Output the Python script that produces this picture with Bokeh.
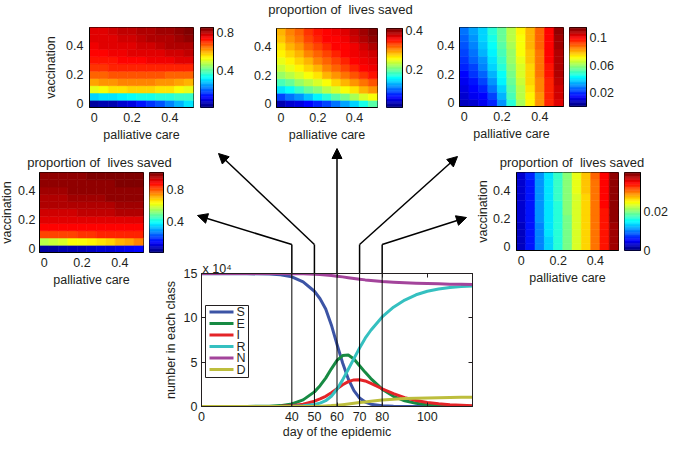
import numpy as np
from bokeh.plotting import figure
from bokeh.models import (Range1d, FixedTicker, LinearColorMapper, ColumnDataSource,
                          Arrow, NormalHead, InlineStyleSheet, LinearAxis)
from bokeh.layouts import column
from bokeh.transform import transform
from bokeh.embed import file_html
from bokeh.resources import INLINE
from bokeh.core.properties import value

# ---------------- data ----------------
PC_LEVELS = [0.0, 0.05, 0.1, 0.15, 0.2, 0.25, 0.3, 0.35, 0.4, 0.45, 0.5]    # palliative care
VAC_LEVELS = [0.0, 0.05, 0.1, 0.15, 0.2, 0.25, 0.3, 0.35, 0.4, 0.45, 0.5]   # vaccination
HEAT_TICKS = [0, 0.2, 0.4]

# proportion of lives saved, rows = vaccination (0 -> 0.5), cols = palliative care (0 -> 0.5)
SAVED_DAY40 = [
    [0.041, 0.041, 0.051, 0.051, 0.061, 0.071, 0.082, 0.092, 0.102, 0.122, 0.143],
    [0.561, 0.581, 0.602, 0.622, 0.632, 0.643, 0.663, 0.683, 0.704, 0.724, 0.755],
    [0.816, 0.816, 0.826, 0.826, 0.836, 0.836, 0.847, 0.847, 0.847, 0.857, 0.857],
    [0.877, 0.877, 0.877, 0.887, 0.887, 0.887, 0.887, 0.887, 0.887, 0.887, 0.887],
    [0.918, 0.918, 0.918, 0.918, 0.918, 0.918, 0.918, 0.918, 0.918, 0.918, 0.918],
    [0.938, 0.938, 0.938, 0.938, 0.949, 0.949, 0.949, 0.949, 0.959, 0.959, 0.959],
    [0.959, 0.959, 0.959, 0.959, 0.969, 0.969, 0.969, 0.969, 0.979, 0.979, 0.979],
    [0.969, 0.969, 0.969, 0.979, 0.979, 0.979, 0.979, 0.989, 0.989, 0.989, 0.989],
    [0.979, 0.979, 0.979, 0.989, 0.989, 0.989, 0.989, 1.000, 1.000, 1.000, 1.000],
    [0.989, 0.989, 0.989, 0.989, 1.000, 1.000, 1.000, 1.000, 1.010, 1.010, 1.010],
    [0.989, 0.989, 1.000, 1.000, 1.000, 1.010, 1.010, 1.010, 1.010, 1.020, 1.020],
]
SAVED_DAY50 = [
    [0.04, 0.05, 0.06, 0.08, 0.10, 0.13, 0.16, 0.19, 0.23, 0.27, 0.31],
    [0.29, 0.30, 0.31, 0.32, 0.33, 0.34, 0.35, 0.36, 0.36, 0.37, 0.37],
    [0.52, 0.53, 0.55, 0.56, 0.57, 0.57, 0.57, 0.56, 0.55, 0.53, 0.51],
    [0.61, 0.62, 0.62, 0.63, 0.63, 0.63, 0.63, 0.62, 0.62, 0.61, 0.60],
    [0.66, 0.66, 0.67, 0.67, 0.67, 0.67, 0.67, 0.67, 0.66, 0.66, 0.66],
    [0.70, 0.70, 0.71, 0.71, 0.71, 0.71, 0.71, 0.71, 0.71, 0.71, 0.71],
    [0.72, 0.73, 0.73, 0.74, 0.74, 0.74, 0.75, 0.75, 0.75, 0.76, 0.76],
    [0.74, 0.74, 0.75, 0.75, 0.76, 0.76, 0.77, 0.77, 0.78, 0.78, 0.79],
    [0.75, 0.76, 0.76, 0.77, 0.77, 0.78, 0.78, 0.79, 0.80, 0.80, 0.81],
    [0.76, 0.77, 0.77, 0.78, 0.78, 0.79, 0.80, 0.80, 0.81, 0.82, 0.83],
    [0.77, 0.77, 0.78, 0.79, 0.79, 0.80, 0.81, 0.82, 0.82, 0.83, 0.84],
]
SAVED_DAY60 = [
    [0.034, 0.042, 0.050, 0.062, 0.074, 0.090, 0.106, 0.126, 0.146, 0.170, 0.194],
    [0.090, 0.106, 0.122, 0.138, 0.158, 0.174, 0.194, 0.210, 0.226, 0.242, 0.258],
    [0.150, 0.166, 0.182, 0.198, 0.214, 0.230, 0.242, 0.258, 0.270, 0.286, 0.298],
    [0.190, 0.202, 0.218, 0.234, 0.246, 0.258, 0.274, 0.286, 0.302, 0.314, 0.326],
    [0.218, 0.230, 0.242, 0.258, 0.270, 0.286, 0.298, 0.314, 0.326, 0.338, 0.350],
    [0.238, 0.250, 0.262, 0.274, 0.290, 0.306, 0.318, 0.330, 0.342, 0.354, 0.362],
    [0.250, 0.262, 0.274, 0.290, 0.306, 0.322, 0.334, 0.346, 0.354, 0.362, 0.370],
    [0.262, 0.274, 0.290, 0.306, 0.322, 0.334, 0.346, 0.354, 0.362, 0.370, 0.378],
    [0.270, 0.286, 0.302, 0.318, 0.334, 0.346, 0.354, 0.358, 0.366, 0.378, 0.390],
    [0.282, 0.298, 0.314, 0.330, 0.342, 0.354, 0.358, 0.362, 0.374, 0.386, 0.398],
    [0.290, 0.306, 0.322, 0.338, 0.350, 0.358, 0.362, 0.370, 0.382, 0.394, 0.410],
]
SAVED_DAY70 = [
    [0.0081, 0.0104, 0.0138, 0.0196, 0.0322, 0.0483, 0.0621, 0.0725, 0.0828, 0.0955, 0.1035],
    [0.0092, 0.0127, 0.0161, 0.0230, 0.0357, 0.0506, 0.0633, 0.0736, 0.0840, 0.0955, 0.1047],
    [0.0115, 0.0150, 0.0196, 0.0276, 0.0391, 0.0529, 0.0644, 0.0748, 0.0851, 0.0966, 0.1058],
    [0.0138, 0.0173, 0.0230, 0.0311, 0.0426, 0.0552, 0.0656, 0.0759, 0.0851, 0.0966, 0.1070],
    [0.0161, 0.0207, 0.0265, 0.0345, 0.0449, 0.0564, 0.0667, 0.0759, 0.0863, 0.0978, 0.1081],
    [0.0184, 0.0230, 0.0299, 0.0380, 0.0472, 0.0587, 0.0679, 0.0771, 0.0863, 0.0978, 0.1081],
    [0.0207, 0.0253, 0.0322, 0.0403, 0.0495, 0.0598, 0.0690, 0.0782, 0.0874, 0.0989, 0.1093],
    [0.0230, 0.0276, 0.0345, 0.0426, 0.0518, 0.0610, 0.0702, 0.0782, 0.0874, 0.0989, 0.1093],
    [0.0242, 0.0299, 0.0368, 0.0449, 0.0529, 0.0621, 0.0713, 0.0794, 0.0886, 0.0989, 0.1104],
    [0.0265, 0.0322, 0.0380, 0.0460, 0.0541, 0.0633, 0.0713, 0.0805, 0.0886, 0.1001, 0.1104],
    [0.0276, 0.0334, 0.0391, 0.0472, 0.0552, 0.0644, 0.0725, 0.0805, 0.0897, 0.1001, 0.1116],
]
SAVED_DAY80 = [
    [0.0030, 0.0058, 0.0104, 0.0138, 0.0166, 0.0199, 0.0236, 0.0268, 0.0305, 0.0345, 0.0390],
    [0.0030, 0.0059, 0.0105, 0.0139, 0.0167, 0.0200, 0.0237, 0.0269, 0.0306, 0.0346, 0.0391],
    [0.0031, 0.0060, 0.0106, 0.0140, 0.0168, 0.0201, 0.0238, 0.0270, 0.0307, 0.0347, 0.0392],
    [0.0031, 0.0060, 0.0107, 0.0141, 0.0169, 0.0202, 0.0238, 0.0270, 0.0307, 0.0347, 0.0392],
    [0.0032, 0.0061, 0.0108, 0.0141, 0.0169, 0.0202, 0.0239, 0.0271, 0.0308, 0.0348, 0.0393],
    [0.0032, 0.0061, 0.0109, 0.0142, 0.0170, 0.0203, 0.0239, 0.0271, 0.0308, 0.0348, 0.0393],
    [0.0032, 0.0062, 0.0109, 0.0142, 0.0170, 0.0203, 0.0240, 0.0272, 0.0309, 0.0349, 0.0394],
    [0.0033, 0.0062, 0.0110, 0.0143, 0.0171, 0.0204, 0.0240, 0.0272, 0.0309, 0.0349, 0.0394],
    [0.0033, 0.0063, 0.0110, 0.0143, 0.0171, 0.0204, 0.0241, 0.0273, 0.0310, 0.0350, 0.0395],
    [0.0033, 0.0063, 0.0111, 0.0144, 0.0172, 0.0205, 0.0241, 0.0273, 0.0310, 0.0350, 0.0396],
    [0.0034, 0.0064, 0.0111, 0.0144, 0.0172, 0.0205, 0.0242, 0.0274, 0.0311, 0.0351, 0.0397],
]
# colour-scale limits and colourbar ticks of each map
CLIM_DAY40 = (0.0, 1.02);   CTICKS_DAY40 = [0.4, 0.8]
CLIM_DAY50 = (0.01, 0.85);  CTICKS_DAY50 = [0.4, 0.8]
CLIM_DAY60 = (0.01, 0.41);  CTICKS_DAY60 = [0.2, 0.4]
CLIM_DAY70 = (0.0, 0.115);  CTICKS_DAY70 = [0.02, 0.06, 0.1]
CLIM_DAY80 = (0.0, 0.0405); CTICKS_DAY80 = [0, 0.02]

# epidemic curves (numbers in units of 10^4)
DAYS = [0, 10, 20, 30, 35, 40, 45, 50, 52.5, 55, 57.5, 60, 62.5, 65, 67.5, 70, 72.5, 75,
        80, 85, 90, 95, 100, 105, 110, 115, 120]
S = [14.98, 14.98, 14.97, 14.94, 14.86, 14.62, 14.05, 13.0, 12.15, 11.0, 9.2, 7.0, 4.9, 3.1,
     1.8, 0.95, 0.5, 0.26, 0.08, 0.03, 0.01, 0.0, 0.0, 0.0, 0.0, 0.0, 0.0]
E = [0.0, 0.0, 0.01, 0.04, 0.1, 0.28, 0.75, 1.65, 2.35, 3.2, 4.25, 5.2, 5.75, 5.8, 5.35, 4.6,
     3.85, 3.15, 1.95, 1.15, 0.65, 0.37, 0.2, 0.11, 0.06, 0.03, 0.02]
I = [0.0, 0.0, 0.0, 0.01, 0.03, 0.09, 0.25, 0.6, 0.85, 1.15, 1.55, 2.0, 2.45, 2.8, 3.0, 3.02,
     2.88, 2.6, 2.0, 1.45, 1.0, 0.68, 0.45, 0.3, 0.2, 0.13, 0.08]
R = [0.0, 0.0, 0.0, 0.0, 0.01, 0.03, 0.08, 0.22, 0.38, 0.65, 1.15, 1.95, 3.0, 4.2, 5.4, 6.6,
     7.7, 8.6, 10.1, 11.2, 12.0, 12.6, 13.0, 13.25, 13.42, 13.52, 13.58]
N = [15.0, 15.0, 15.0, 15.0, 14.99, 14.98, 14.96, 14.92, 14.89, 14.84, 14.78, 14.7, 14.62,
     14.53, 14.44, 14.36, 14.28, 14.22, 14.1, 14.02, 13.96, 13.91, 13.87, 13.83, 13.8, 13.78, 13.76]
D = [0.0, 0.0, 0.0, 0.0, 0.0, 0.0, 0.01, 0.02, 0.04, 0.07, 0.1, 0.15, 0.21, 0.28, 0.36, 0.44,
     0.52, 0.6, 0.72, 0.82, 0.89, 0.94, 0.97, 1.0, 1.02, 1.04, 1.05]
SERIES_NAMES = ["S", "E", "I", "R", "N", "D"]
SNAP_DAYS = [40, 50, 60, 70, 80]
DAY_TICKS = [0, 40, 50, 60, 70, 80, 100]
COUNT_TICKS = [0, 5, 10, 15]
MAP_TITLE = "proportion of\u00a0 lives saved"

# ---------------- style ----------------
FONT = "Liberation Sans"
INK = "#231f20"
TICK_FS = "12.5px"
SERIES_COLORS = ["#3c54a5", "#178a43", "#e42428", "#35c0c0", "#a3449b", "#bdbe3d"]


def jet(n=64):
    out = []
    for i in range(n):
        t = i / (n - 1)
        r = min(max(1.5 - abs(4 * t - 3), 0.0), 1.0)
        g = min(max(1.5 - abs(4 * t - 2), 0.0), 1.0)
        b = min(max(1.5 - abs(4 * t - 1), 0.0), 1.0)
        out.append("#%02x%02x%02x" % (round(r * 255), round(g * 255), round(b * 255)))
    return out


JET = jet(64)


def pin(fig, px, py):
    fig.frame_align = False
    fig.stylesheets = [InlineStyleSheet(css=(
        ":host{position:absolute !important;left:%dpx !important;top:%dpx !important;"
        "margin:0 !important;}" % (px, py)))]


def style_axis(ax, fs=TICK_FS):
    ax.major_label_text_font = FONT
    ax.major_label_text_font_size = fs
    ax.major_label_text_color = INK
    ax.axis_label_text_font = FONT
    ax.axis_label_text_font_size = "12.5px"
    ax.axis_label_text_font_style = "normal"
    ax.axis_label_text_color = INK
    ax.axis_line_color = INK
    ax.major_tick_line_color = INK
    ax.minor_tick_line_color = None


def heatmap(grid, clim, frame, ylabel, ystand, ylab_stand):
    x0, y0, x1, y1 = frame
    L, Rb, T, B = 50, 3, 3, 38
    p = figure(frame_width=(x1 - x0), frame_height=(y1 - y0),
               x_range=Range1d(-0.025, 0.525), y_range=Range1d(-0.025, 0.525),
               output_backend="svg", toolbar_location=None, title=None,
               min_border_left=L, min_border_right=Rb, min_border_top=T, min_border_bottom=B,
               border_fill_color=None, outline_line_color="black")
    mapper = LinearColorMapper(palette=JET, low=clim[0], high=clim[1])
    xs, ys, vs = [], [], []
    for i, vac in enumerate(VAC_LEVELS):
        for j, pc in enumerate(PC_LEVELS):
            xs.append(pc)
            ys.append(vac)
            vs.append(grid[i][j])
    src = ColumnDataSource(dict(x=xs, y=ys, v=vs))
    p.rect("x", "y", width=0.05, height=0.05, source=src,
           fill_color=transform("v", mapper), line_color=transform("v", mapper), line_width=0.6)
    p.grid.visible = False
    for ax in (p.xaxis[0], p.yaxis[0]):
        style_axis(ax)
        ax.ticker = FixedTicker(ticks=HEAT_TICKS)
        ax.major_label_overrides = {0: "0", 0.2: "0.2", 0.4: "0.4"}
        ax.major_tick_in = 0
        ax.major_tick_out = 0
        ax.minor_tick_in = 0
        ax.minor_tick_out = 0
        ax.axis_line_color = "black"
    p.xaxis.axis_label = "palliative care"
    p.xaxis.major_label_standoff = 5
    p.xaxis.axis_label_standoff = 3
    p.yaxis.major_label_standoff = ystand
    if ylabel:
        p.yaxis.axis_label = "vaccination"
        p.yaxis.axis_label_standoff = ylab_stand
    pin(p, x0 - L, y0 - T)
    return p


def colorbar(clim, ticks, frame):
    x0, y0, x1, y1 = frame
    L, Rb, T, B = 1, 30, 8, 8
    lo, hi = clim
    p = figure(frame_width=(x1 - x0), frame_height=(y1 - y0),
               x_range=Range1d(0, 1), y_range=Range1d(lo, hi),
               x_axis_location=None, y_axis_location="right",
               output_backend="svg", toolbar_location=None, title=None,
               min_border_left=L, min_border_right=Rb, min_border_top=T, min_border_bottom=B,
               border_fill_color=None, outline_line_color="black")
    edges = np.linspace(lo, hi, len(JET) + 1)
    p.quad(left=0, right=1, bottom=edges[:-1], top=edges[1:],
           fill_color=JET, line_color=JET, line_width=0.5)
    p.grid.visible = False
    ax = p.yaxis[0]
    style_axis(ax)
    ax.ticker = FixedTicker(ticks=ticks)
    ax.major_label_overrides = {t: ("%g" % t) for t in ticks}
    ax.major_tick_in = 0
    ax.major_tick_out = 0
    ax.minor_tick_in = 0
    ax.minor_tick_out = 0
    ax.major_label_standoff = 3
    ax.axis_line_color = "black"
    pin(p, x0 - L, y0 - T)
    return p


# ---------------- main epidemic chart ----------------
MX0, MY0, MX1, MY1 = 201, 273, 472, 406
ML, MR, MT, MB = 45, 10, 10, 40
main = figure(frame_width=(MX1 - MX0), frame_height=(MY1 - MY0),
              x_range=Range1d(0, 120), y_range=Range1d(0, 15),
              output_backend="svg", toolbar_location=None, title=None,
              min_border_left=ML, min_border_right=MR, min_border_top=MT, min_border_bottom=MB,
              border_fill_color=None, background_fill_color=None, outline_line_color=INK)
main.grid.visible = False
for ys, col in zip([S, E, I, R, N, D], SERIES_COLORS):
    main.line(DAYS, ys, line_color=col, line_width=3, line_join="round")
main.segment(x0=SNAP_DAYS, y0=[0] * len(SNAP_DAYS), x1=SNAP_DAYS, y1=[15] * len(SNAP_DAYS),
             line_color="black", line_width=1)
style_axis(main.xaxis[0])
style_axis(main.yaxis[0])
main.xaxis.ticker = FixedTicker(ticks=DAY_TICKS)
main.yaxis.ticker = FixedTicker(ticks=COUNT_TICKS)
for ax in (main.xaxis[0], main.yaxis[0]):
    ax.major_tick_in = 4
    ax.major_tick_out = 0
    ax.minor_tick_in = 0
    ax.minor_tick_out = 0
main.xaxis.major_label_standoff = 5
main.xaxis.axis_label = "day of the epidemic"
main.xaxis.axis_label_standoff = 1
main.yaxis.major_label_standoff = 4
main.yaxis.axis_label = "number in each class"
main.yaxis.axis_label_standoff = 3
for loc, tk in (("right", COUNT_TICKS), ("above", DAY_TICKS)):
    ax = LinearAxis(ticker=FixedTicker(ticks=tk), major_label_text_alpha=0,
                    major_label_text_font_size="1px",
                    major_label_standoff=0, major_tick_in=4, major_tick_out=0,
                    minor_tick_in=0, minor_tick_out=0, axis_line_color=INK,
                    major_tick_line_color=INK)
    main.add_layout(ax, loc)
pin(main, MX0 - ML, MY0 - MT)


def day_px(d):
    return MX0 + d * (MX1 - MX0) / 120.0


# ---------------- canvas with arrows, titles and legend (page pixel coordinates) ----------------
canvas = figure(frame_width=673, frame_height=451, x_range=Range1d(0, 673), y_range=Range1d(451, 0),
                x_axis_location=None, y_axis_location=None, output_backend="svg",
                toolbar_location=None, title=None, min_border=0,
                min_border_left=0, min_border_right=0, min_border_top=0, min_border_bottom=0,
                outline_line_color=None)
canvas.grid.visible = False
canvas.frame_align = False

ELBOW_Y = 244
TIPS = [(197, 215), (218, 153), (None, 148), (457, 156), (466, 217)]
for d, (tx, ty) in zip(SNAP_DAYS, TIPS):
    bx = day_px(d)
    if tx is None:
        canvas.add_layout(Arrow(x_start=bx, y_start=MY0, x_end=bx, y_end=ty,
                                line_width=1.5, line_color="black",
                                end=NormalHead(size=10, fill_color="black", line_color="black")))
    else:
        canvas.segment(x0=[bx], y0=[MY0], x1=[bx], y1=[ELBOW_Y], line_color="black", line_width=1.5)
        canvas.add_layout(Arrow(x_start=bx, y_start=ELBOW_Y, x_end=tx, y_end=ty,
                                line_width=1.5, line_color="black",
                                end=NormalHead(size=10, fill_color="black", line_color="black")))

canvas.text(x=[340, 99, 571.5], y=[9, 162, 162], text=[MAP_TITLE] * 3,
            text_font=value(FONT), text_font_size="13px", text_color=INK,
            text_align="center", text_baseline="middle")
canvas.text(x=[202], y=[268], text=["x 10\u2074"], text_font=value(FONT),
            text_font_size="12.5px", text_color=INK, text_align="left", text_baseline="middle")

# legend of the epidemic chart
LEG_L, LEG_T, LEG_R, LEG_B = 205, 305, 248, 377
leg_rows = [LEG_T + 6.5 + 11.5 * k for k in range(len(SERIES_NAMES))]
canvas.quad(left=[LEG_L], right=[LEG_R], top=[LEG_T], bottom=[LEG_B],
            fill_color="white", line_color=INK, line_width=1)
canvas.segment(x0=[LEG_L + 4] * len(leg_rows), x1=[LEG_L + 28] * len(leg_rows),
               y0=leg_rows, y1=leg_rows, line_color=SERIES_COLORS, line_width=3)
canvas.text(x=[LEG_L + 31] * len(leg_rows), y=leg_rows, text=SERIES_NAMES,
            text_font=value(FONT), text_font_size="12.5px", text_color=INK,
            text_align="left", text_baseline="middle")
pin(canvas, 0, 0)

# ---------------- heatmaps ----------------
figs = [
    heatmap(SAVED_DAY40, CLIM_DAY40, (39, 172, 143, 252), True, 4, 1),
    colorbar(CLIM_DAY40, CTICKS_DAY40, (149, 172, 163, 252)),
    heatmap(SAVED_DAY50, CLIM_DAY50, (89, 27, 193, 107), True, 6, 5),
    colorbar(CLIM_DAY50, CTICKS_DAY50, (200, 27, 213, 107)),
    heatmap(SAVED_DAY60, CLIM_DAY60, (276, 28, 377, 107), False, 5, 1),
    colorbar(CLIM_DAY60, CTICKS_DAY60, (386, 28, 402, 107)),
    heatmap(SAVED_DAY70, CLIM_DAY70, (459, 27, 563, 106), False, 5, 1),
    colorbar(CLIM_DAY70, CTICKS_DAY70, (569, 27, 586, 106)),
    heatmap(SAVED_DAY80, CLIM_DAY80, (516, 172, 618, 250), True, 6, 0),
    colorbar(CLIM_DAY80, CTICKS_DAY80, (624, 172, 640, 250)),
]

page = column(canvas, main, *figs, width=673, height=451,
              stylesheets=[InlineStyleSheet(css=(
                  ":host{position:relative !important;display:block !important;"
                  "width:673px !important;height:451px !important;}"))])

open("out.html", "w").write(file_html(page, INLINE))
